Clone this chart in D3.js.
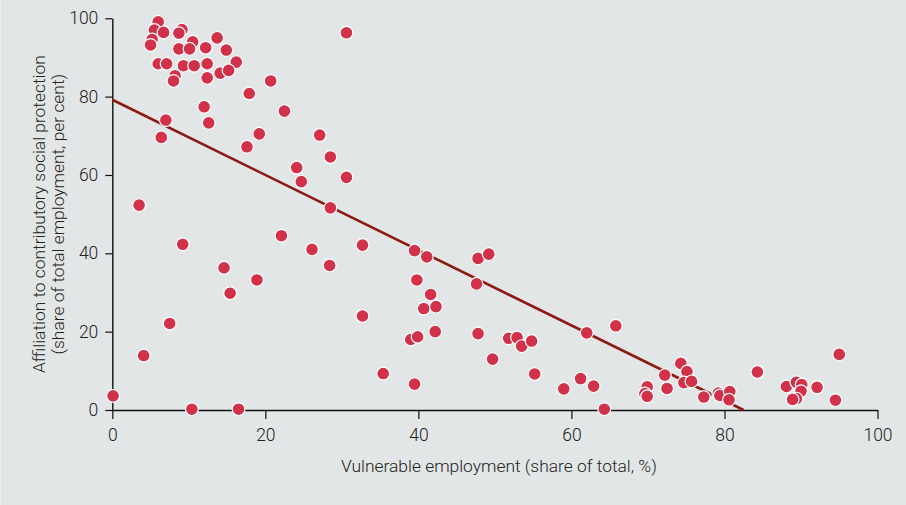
<!DOCTYPE html>
<html>
<head>
<meta charset="utf-8">
<script src="https://cdn.jsdelivr.net/npm/d3@7"></script>
<style>
html, body { margin: 0; padding: 0; background: #e3e6e7; }
svg { display: block; }
</style>
</head>
<body>
<svg id="chart" width="906" height="505"></svg>
<script>
// vulnerable employment (share of total, %) per country
const vulnerable = [
    6.0, 5.5, 6.7, 5.2, 5.0, 9.1, 8.7, 10.5, 13.7, 8.7,
    10.1, 12.2, 14.9, 6.0, 7.1, 9.3, 10.7, 12.4, 16.2, 8.2,
    8.0, 12.4, 14.1, 15.2, 20.7, 17.9, 22.5, 12.0, 12.6, 7.0,
    6.4, 19.2, 30.6, 17.6, 27.1, 28.5, 24.1, 24.7, 30.6, 3.5,
    28.5, 9.2, 22.1, 26.1, 28.4, 32.7, 14.6, 18.9, 15.4, 32.7,
    7.5, 4.1, 35.4, 0.1, 10.4, 16.5, 39.5, 41.1, 47.8, 49.2,
    39.8, 47.6, 41.6, 40.7, 42.3, 39.0, 39.9, 42.2, 47.8, 51.8,
    52.9, 53.5, 54.8, 49.7, 39.5, 55.2, 59.0, 61.2, 62.9, 64.3,
    62.0, 65.8, 69.9, 69.6, 69.9, 72.2, 72.5, 74.3, 75.1, 74.7,
    75.7, 77.3, 79.2, 79.4, 80.7, 80.6, 84.3, 88.1, 89.4, 90.1,
    90.0, 89.4, 88.9, 92.1, 94.5, 95.0
];

// affiliation to contributory social protection (share of total employment, per cent)
const affiliation = [
    99.1, 97.0, 96.4, 94.6, 93.2, 97.1, 96.2, 94.0, 95.0, 92.2,
    92.2, 92.5, 91.9, 88.4, 88.4, 87.9, 87.9, 88.4, 88.8, 85.3,
    84.0, 84.8, 86.0, 86.7, 84.0, 80.8, 76.3, 77.4, 73.3, 74.0,
    69.6, 70.5, 96.3, 67.2, 70.2, 64.6, 61.9, 58.3, 59.4, 52.3,
    51.6, 42.3, 44.5, 41.0, 36.9, 42.1, 36.3, 33.2, 29.8, 24.0,
    22.1, 13.9, 9.3, 3.6, 0.2, 0.2, 40.7, 39.1, 38.7, 39.8,
    33.2, 32.2, 29.5, 25.9, 26.4, 18.0, 18.7, 20.0, 19.5, 18.3,
    18.5, 16.3, 17.6, 13.0, 6.6, 9.2, 5.4, 8.0, 6.1, 0.2,
    19.7, 21.5, 5.9, 4.2, 3.5, 8.9, 5.5, 11.9, 9.8, 7.0,
    7.3, 3.3, 4.3, 3.7, 4.7, 2.6, 9.7, 6.0, 7.1, 6.5,
    4.8, 2.9, 2.7, 5.8, 2.5, 14.2
];

const xTicks = [0, 20, 40, 60, 80, 100];
const yTicks = [0, 20, 40, 60, 80, 100];

// fitted line
const trendX = [0, 82.5];
const trendY = [79.2, 0];

const xTitle = "Vulnerable employment (share of total, %)";
const yTitle = ["Affiliation to contributory social protection", "(share of total employment, per cent)"];

const width = 906, height = 505;
const margin = { top: 18.3, right: 28.5, bottom: 95, left: 112.3 };

const svg = d3.select("#chart");

svg.append("rect")
    .attr("width", width)
    .attr("height", height)
    .attr("fill", "#e3e6e7");

svg.append("line")
    .attr("x1", 0.5).attr("x2", 0.5)
    .attr("y1", 0).attr("y2", height)
    .attr("stroke", "#eceeef");

const x = d3.scaleLinear()
    .domain([0, 100])
    .range([margin.left, width - margin.right]);

const y = d3.scaleLinear()
    .domain([0, 100])
    .range([height - margin.bottom, margin.top]);

const font = "Roboto, 'Liberation Sans', sans-serif";

// axes
const xAxis = svg.append("g")
    .attr("transform", `translate(0, ${y(0)})`)
    .call(d3.axisBottom(x).tickValues(xTicks).tickSize(9).tickSizeOuter(0).tickPadding(10));

const yAxis = svg.append("g")
    .attr("transform", `translate(${x(0)}, 0)`)
    .call(d3.axisLeft(y).tickValues(yTicks).tickSize(7).tickSizeOuter(0).tickPadding(7));

[xAxis, yAxis].forEach(a => {
    a.select(".domain").attr("stroke", "#111").attr("stroke-width", 1.4);
    a.selectAll(".tick line").attr("stroke", "#111").attr("stroke-width", 1.2);
    a.selectAll(".tick text")
        .attr("fill", "#222")
        .attr("font-family", font)
        .attr("font-size", "17.5px")
        .attr("font-weight", 300);
});

// trend line
svg.append("line")
    .attr("x1", x(trendX[0]))
    .attr("y1", y(trendY[0]))
    .attr("x2", x(trendX[1]))
    .attr("y2", y(trendY[1]))
    .attr("stroke", "#8c1c12")
    .attr("stroke-width", 2.6);

// points
svg.append("g")
    .selectAll("circle")
    .data(vulnerable.map((v, i) => ({ v, a: affiliation[i] })))
    .enter()
    .append("circle")
    .attr("cx", d => x(d.v))
    .attr("cy", d => y(d.a))
    .attr("r", 6.4)
    .attr("fill", "#d2314a")
    .attr("stroke", "#ffffff")
    .attr("stroke-width", 1.2);

// titles
svg.append("text")
    .attr("x", 341)
    .attr("y", 472)
    .attr("fill", "#222")
    .attr("font-family", font)
    .attr("font-size", "17.4px")
    .attr("font-weight", 300)
    .text(xTitle);

const yCenter = (y(0) + y(100)) / 2;
yTitle.forEach((t, i) => {
    svg.append("text")
        .attr("transform", `translate(${45 + i * 18.5}, ${yCenter}) rotate(-90)`)
        .attr("text-anchor", "middle")
        .attr("fill", "#222")
        .attr("font-family", font)
        .attr("font-size", "17.4px")
        .attr("font-weight", 300)
        .text(t);
});
</script>
</body>
</html>
